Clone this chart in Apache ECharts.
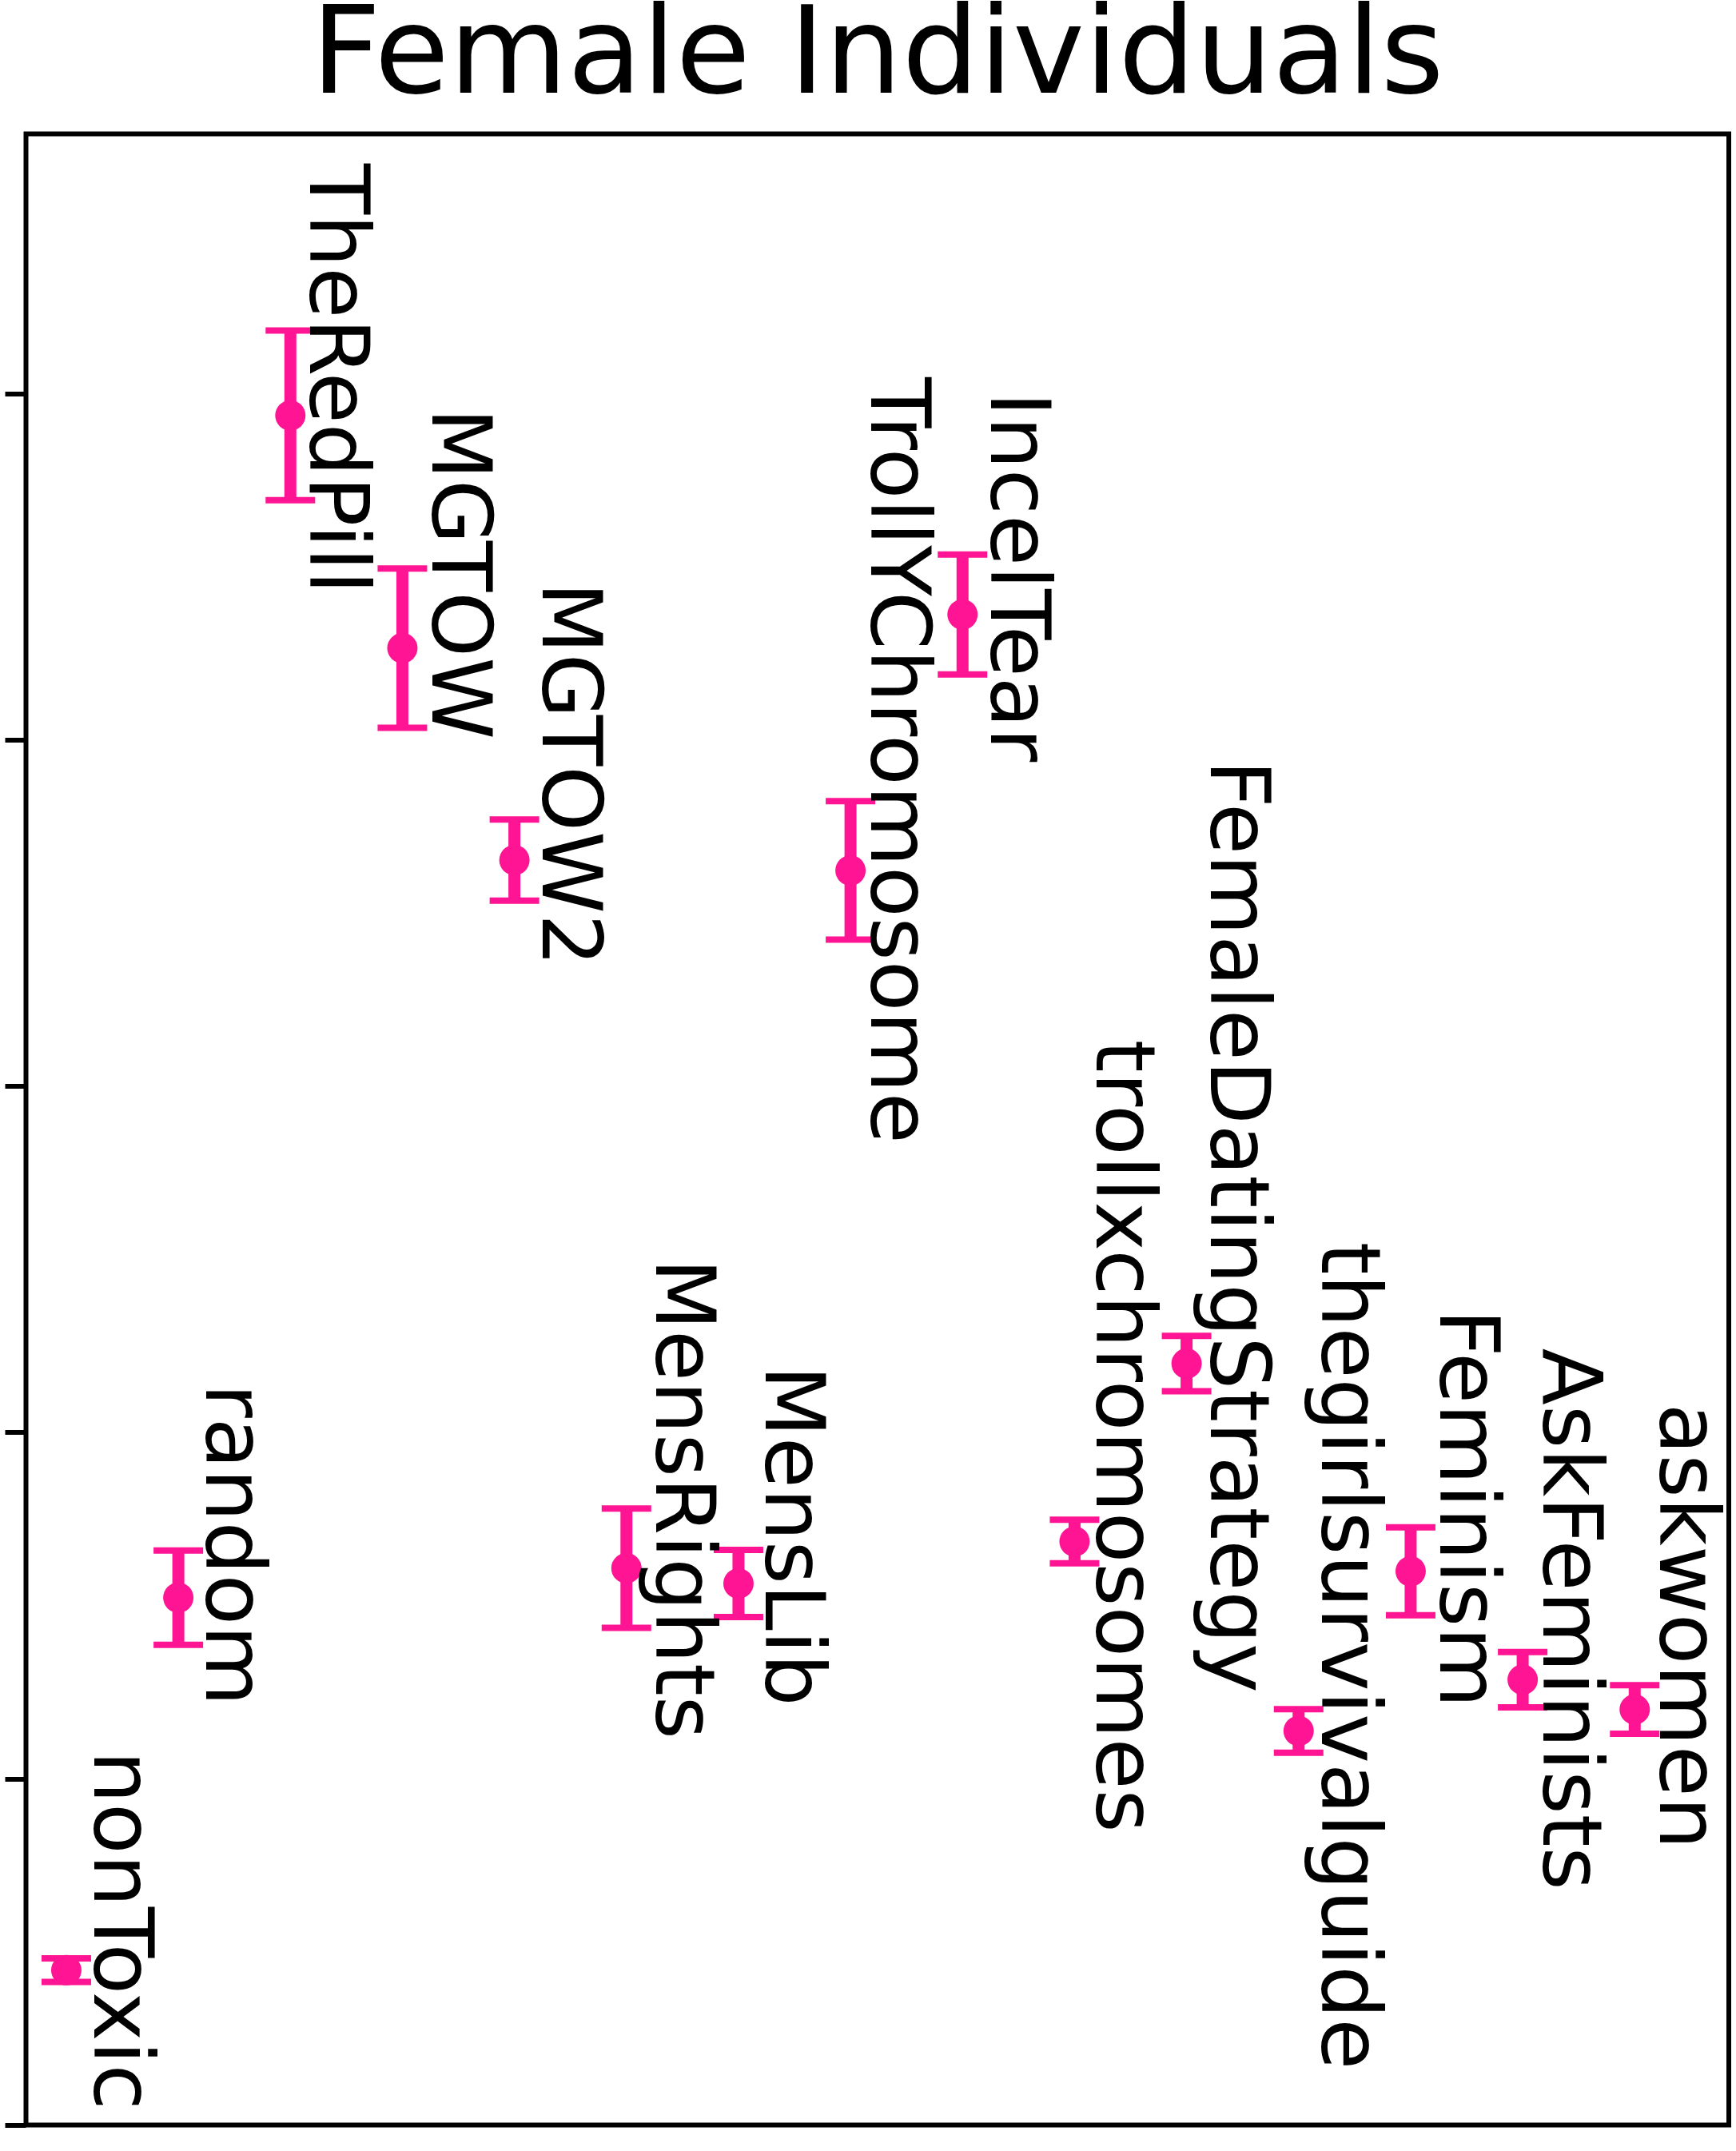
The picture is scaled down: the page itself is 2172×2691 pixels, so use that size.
<!DOCTYPE html>
<html>
<head>
<meta charset="utf-8">
<script src="https://cdn.jsdelivr.net/npm/echarts@6/dist/echarts.min.js"></script>
<style>
  html, body { margin: 0; padding: 0; background: #fff; }
  #main { width: 2172px; height: 2691px; }
</style>
</head>
<body>
<div id="main"></div>
<script>
// subreddits, in plotting order along x
const categories = ['nonToxic', 'random', 'TheRedPill', 'MGTOW', 'MGTOW2', 'MensRights', 'MensLib',
  'TrollYChromosome', 'IncelTear', 'trollxchromosomes', 'FemaleDatingStrategy',
  'thegirlsurvivalguide', 'Feminism', 'AskFeminists', 'askwomen'];
// mean value and error half-width (y units, ticks unlabeled)
const means = [0.447, 1.523, 4.937, 4.265, 3.653, 1.608, 1.564, 3.623, 4.362, 1.685, 2.199, 1.138, 1.599, 1.286, 1.200];
const errors = [0.034, 0.136, 0.245, 0.230, 0.117, 0.172, 0.097, 0.200, 0.173, 0.063, 0.080, 0.063, 0.127, 0.080, 0.070];
// where each rotated name is placed (data units: baseline x, start y)
const labelX = [0.223, 1.221, 2.147, 3.243, 4.226, 5.238, 6.214, 7.153, 8.226, 9.168, 10.186, 11.181, 12.238, 13.159, 14.2];
const labelY = [1.081, 2.141, 5.664, 4.959, 4.456, 2.503, 2.194, 5.047, 5.005, 3.134, 3.942, 2.550, 2.356, 2.243, 2.084];
const yTicks = [0, 1, 2, 3, 4, 5];

const PINK = '#ff1493';
const LABEL_FONT = '104px "DejaVu Sans"';

const chart = echarts.init(document.getElementById('main'), null, { renderer: 'canvas' });

const points = categories.map((c, i) => [i, means[i]]);
const bars = categories.map((c, i) => [i, means[i] - errors[i], means[i] + errors[i]]);
const labels = categories.map((c, i) => [labelX[i], labelY[i]]);

const option = {
  animation: false,
  backgroundColor: '#fff',
  graphic: [{
    type: 'text',
    x: 1098,
    y: 77,
    style: {
      text: 'Female Individuals',
      font: '152px "DejaVu Sans"',
      fill: '#000',
      align: 'center',
      verticalAlign: 'middle'
    }
  }],
  grid: {
    left: 32.5,
    top: 167.5,
    width: 2130.5,
    height: 2491,
    containLabel: false,
    outerBoundsMode: 'none',
    show: true,
    borderColor: '#000',
    borderWidth: 6,
    backgroundColor: 'transparent'
  },
  xAxis: {
    type: 'value',
    min: -0.36,
    max: 14.84,
    axisLine: { show: false, onZero: false },
    axisTick: { show: false },
    axisLabel: { show: false },
    splitLine: { show: false }
  },
  yAxis: {
    type: 'value',
    position: 'left',
    min: yTicks[0],
    max: 5.75,
    interval: 1,
    axisLine: { show: false, onZero: false },
    axisTick: {
      show: true,
      inside: false,
      length: 26,
      customValues: yTicks,
      lineStyle: { color: '#000', width: 6 }
    },
    axisLabel: { show: false },
    splitLine: { show: false }
  },
  series: [
    {
      type: 'custom',
      name: 'errorbars',
      data: bars,
      encode: { x: 0, y: [1, 2] },
      renderItem: function (params, api) {
        const x = api.value(0);
        const lo = api.coord([x, api.value(1)]);
        const hi = api.coord([x, api.value(2)]);
        const half = 31;
        return {
          type: 'group',
          children: [
            { type: 'line', shape: { x1: lo[0], y1: lo[1], x2: hi[0], y2: hi[1] },
              style: { stroke: PINK, lineWidth: 15 } },
            { type: 'line', shape: { x1: hi[0] - half, y1: hi[1], x2: hi[0] + half, y2: hi[1] },
              style: { stroke: PINK, lineWidth: 8 } },
            { type: 'line', shape: { x1: lo[0] - half, y1: lo[1], x2: lo[0] + half, y2: lo[1] },
              style: { stroke: PINK, lineWidth: 8 } }
          ]
        };
      },
      z: 2
    },
    {
      type: 'scatter',
      name: 'means',
      data: points,
      symbol: 'circle',
      symbolSize: 38,
      itemStyle: { color: PINK, opacity: 1 },
      z: 3
    },
    {
      type: 'custom',
      name: 'names',
      data: labels,
      encode: { x: 0, y: 1 },
      renderItem: function (params, api) {
        const i = params.dataIndex;
        const p = api.coord([api.value(0), api.value(1)]);
        return {
          type: 'text',
          x: p[0] + 31,
          y: p[1],
          rotation: -Math.PI / 2,
          style: {
            text: categories[i],
            font: LABEL_FONT,
            fill: '#000',
            align: 'left',
            verticalAlign: 'middle'
          }
        };
      },
      z: 4
    }
  ]
};

chart.setOption(option);
</script>
</body>
</html>
